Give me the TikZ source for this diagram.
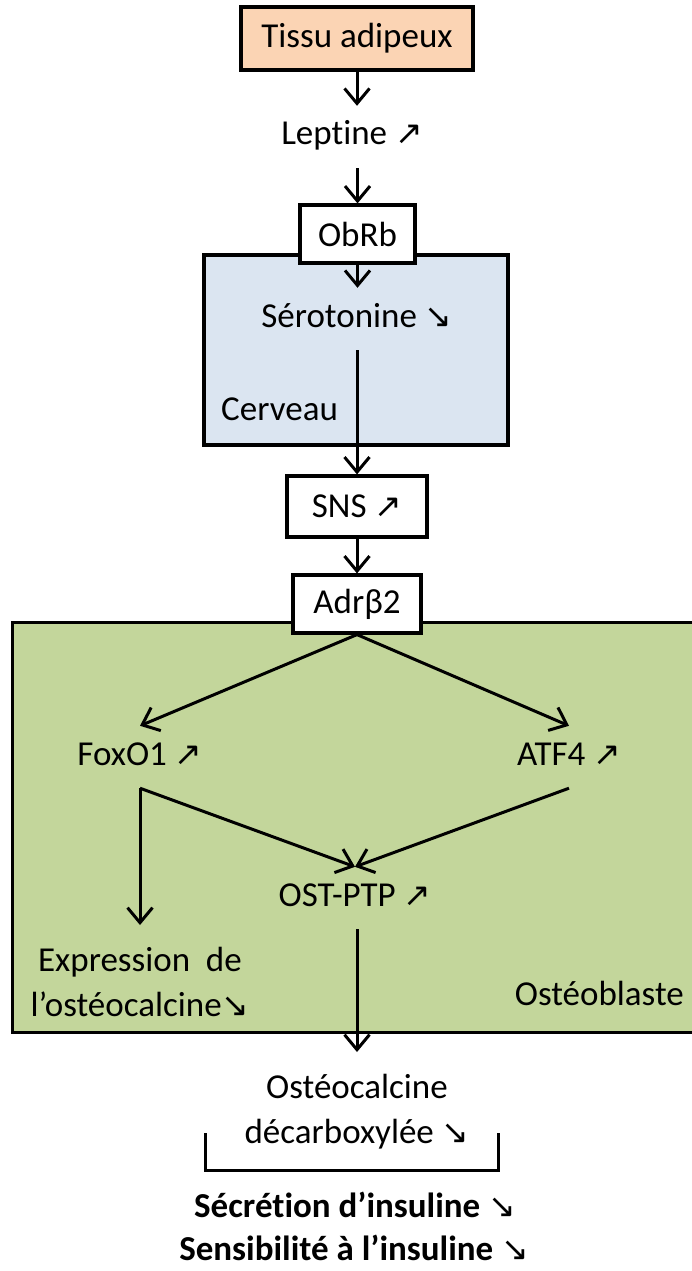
\documentclass[tikz,border=0pt]{standalone}
\usepackage{fontspec}
\setmainfont{Carlito}[Ligatures=NoCommon]
\newfontfamily\arrowfont{DejaVu Sans}
\usetikzlibrary{arrows.meta,positioning}
\definecolor{adipeux}{HTML}{FBD4B4}
\definecolor{cerveaubleu}{HTML}{DBE5F1}
\definecolor{osteovert}{HTML}{C3D69B}
\newcommand{\hausse}{{\arrowfont\mdseries\fontsize{33}{33}\selectfont ↗}}
\newcommand{\baisse}{{\arrowfont\mdseries\fontsize{33}{33}\selectfont ↘}}

\begin{document}
\begin{tikzpicture}[x=1pt,y=-1pt,
  every node/.style={font=\fontsize{35}{45}\selectfont},
  organ/.style={rectangle, draw, line width=3.2pt, inner sep=0pt},
  mol/.style={inner xsep=2pt, inner ysep=14pt, text height=25pt, text depth=9pt},
  bloc/.style={align=center, inner xsep=2pt, inner ysep=22pt},
  effet/.style={mol, font=\fontsize{35}{45}\selectfont\bfseries},
  arr/.style={line width=3pt, -{Straight Barb[length=15pt,width=25pt,line width=3pt]}}]
\useasboundingbox (0,0) rectangle (691,1271);
\node[organ, fill=adipeux, minimum width=232pt, minimum height=63pt] (tissu) at (357,38.5) {Tissu adipeux};
\node[mol] (leptine) at (352,137) {Leptine \hausse};
\node[organ, fill=cerveaubleu, minimum width=304pt, minimum height=190pt] (cerveau) at (356,350) {};
\node[organ, fill=white, minimum width=115pt, minimum height=58pt] (obrb) at (357.5,234) {ObRb};
\node[mol] (serotonine) at (357,319) {Sérotonine \baisse};
\node[mol, anchor=west] (cerveaulbl) at (219,412) {Cerveau};
\node[organ, fill=white, minimum width=140pt, minimum height=61pt] (sns) at (357,506.5) {SNS \hausse};
\node[fill=osteovert, inner sep=0pt, minimum width=740pt, minimum height=409pt] (osteo) at (383,827.5) {};
\draw[line width=3.2pt] (osteo.north east) -- (osteo.north west) -- (osteo.south west) -- (osteo.south east);
\node[organ, fill=white, minimum width=128pt, minimum height=58pt] (adr) at (357,604) {Adrβ2};
\node[mol] (foxo) at (140,757) {FoxO1 \hausse};
\node[mol] (atf) at (569,757) {ATF4 \hausse};
\node[mol] (ostptp) at (355,898) {OST-PTP \hausse};
\node[bloc, anchor=north] (expression) at (140,925) {Expression\ \ de\\l’ostéocalcine\baisse};
\node[mol, anchor=east] (osteolbl) at (686,997) {Ostéoblaste};
\node[bloc, anchor=north] (osteocalcine) at (357,1052) {Ostéocalcine\\décarboxylée \baisse};
\node[effet] (secretion) at (355,1209) {Sécrétion d’insuline \baisse};
\node[effet] (sensibilite) at (354,1252) {Sensibilité à l’insuline \baisse};
\draw[arr] (tissu.south) -- (tissu.south |- leptine.north);
\draw[arr] (obrb.north |- leptine.south) -- (obrb.north);
\draw[arr] (obrb.south) -- (obrb.south |- serotonine.north);
\draw[arr] (serotonine.south) -- (sns.north);
\draw[arr] (sns.south) -- (adr.north);
\draw[arr] (adr.south) -- (foxo.north);
\draw[arr] (adr.south) -- (atf.north);
\draw[arr] (foxo.south) -- (ostptp.north);
\draw[arr] (atf.south) -- (ostptp.north);
\draw[arr] (foxo.south) -- (expression.north);
\draw[arr] (osteocalcine.north |- ostptp.south) -- (osteocalcine.north);
\draw[line width=3pt] (205,1133) -- (205,1170) -- (498,1170) -- (498,1133);
\end{tikzpicture}
\end{document}
